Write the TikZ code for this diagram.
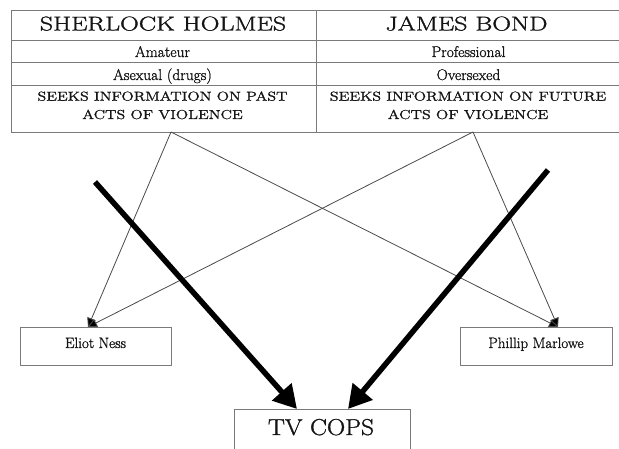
\documentclass[tikz,border=0pt]{standalone}
\usepackage{fontspec}
\setmainfont{Latin Modern Roman}[FakeBold=1.2]
\usetikzlibrary{arrows.meta}
\usepackage{graphicx}
\definecolor{tblgray}{HTML}{7A7A7A}
\definecolor{linegray}{HTML}{4A4A4A}
\newcommand{\hsc}[2]{\scalebox{#1}[1]{#2}}
\newcommand{\fsz}[1]{\fontsize{#1}{#1}\selectfont}
\begin{document}
\begin{tikzpicture}[x=1pt,y=-1pt,
  cell/.style={draw=tblgray,line width=0.9pt,minimum width=305pt,inner sep=0pt,anchor=north west},
  txt/.style={anchor=base,inner sep=0pt,text=black!92},
  link/.style={draw=linegray,line width=0.8pt,-{Triangle[length=9pt,width=9pt,fill=black]}},
  bigarrow/.style={line width=5.5pt,-{Triangle[length=23pt,width=25pt]}},
  box/.style={draw=tblgray,line width=1pt,inner sep=0pt,anchor=north west}]
\useasboundingbox (0,0) rectangle (619,449);
\clip (0,0) rectangle (619,449);
% table
\node[cell,minimum height=30pt] (h1) at (11,10) {};
\node[cell,minimum height=30pt] (h2) at (316,10) {};
\node[cell,minimum height=22pt] (a1) at (11,40) {};
\node[cell,minimum height=22pt] (a2) at (316,40) {};
\node[cell,minimum height=23pt] (b1) at (11,62) {};
\node[cell,minimum height=23pt] (b2) at (316,62) {};
\node[cell,minimum height=47pt] (c1) at (11,85) {};
\node[cell,minimum height=47pt] (c2) at (316,85) {};
\node[txt] (th1) at (163,30.5) {\fsz{20}\hsc{1.3}{SHERLOCK HOLMES}};
\node[txt] (th2) at (466.5,30.5) {\fsz{20}\hsc{1.3}{JAMES BOND}};
\node[txt] (ta1) at (162.5,57) {\fsz{15.5}Amateur};
\node[txt] (ta2) at (468.5,57) {\fsz{15.5}Professional};
\node[txt] (tb1) at (162.5,80) {\fsz{15.5}Asexual (drugs)};
\node[txt] (tb2) at (468.5,80) {\fsz{15.5}Oversexed};
\node[txt] (tc1) at (162.5,100.7) {\fsz{13}\hsc{1.24}{SEEKS INFORMATION ON PAST}};
\node[txt] (td1) at (162.5,119) {\fsz{13}\hsc{1.24}{ACTS OF VIOLENCE}};
\node[txt] (tc2) at (468,100.7) {\fsz{13}\hsc{1.24}{SEEKS INFORMATION ON FUTURE}};
\node[txt] (td2) at (468,119) {\fsz{13}\hsc{1.24}{ACTS OF VIOLENCE}};
% lower boxes
\node[box,minimum width=151pt,minimum height=38pt] (eliot) at (20,327) {};
\node[txt] (teliot) at (95.5,348) {\fsz{15}Eliot Ness};
\node[box,minimum width=152pt,minimum height=38pt] (phil) at (460,327) {};
\node[txt] (tphil) at (536,348) {\fsz{15}Phillip Marlowe};
\node[box,minimum width=176pt,minimum height=60pt] (tv) at (234,409) {};
\node[txt] (ttv) at (321,435) {\fsz{23}\hsc{1.1}{TV COPS}};
% connectors
\coordinate (pa) at (171,132);
\coordinate (pb) at (473,132);
\coordinate (et) at (88,327);
\coordinate (pt) at (558,327);
\draw[link] (pa) -- (et);
\draw[link] (pb) -- (et);
\draw[link] (pa) -- (pt);
\draw[link] (pb) -- (pt);
\coordinate (s1) at (95,182);
\coordinate (s2) at (548,170);
\coordinate (t1) at (297,409);
\coordinate (t2) at (348,409);
\draw[bigarrow] (s1) -- (t1);
\draw[bigarrow] (s2) -- (t2);
\end{tikzpicture}
\end{document}
